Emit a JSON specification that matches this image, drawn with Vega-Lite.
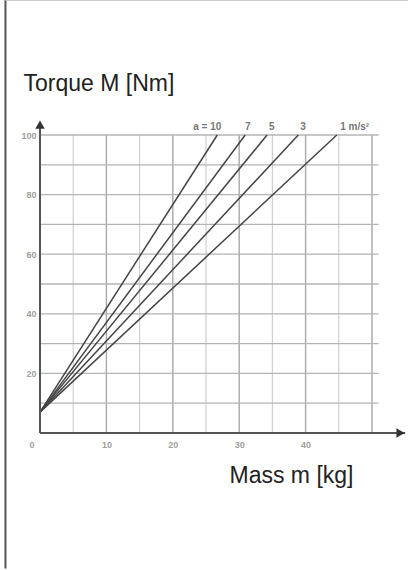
{
  "$schema": "https://vega.github.io/schema/vega-lite/v6.json",
  "width": 332,
  "height": 298,
  "autosize": {"type": "none"},
  "padding": {"left": 40, "top": 135, "right": 36, "bottom": 137},
  "background": "white",
  "config": {
    "view": {"stroke": null},
    "font": "Liberation Sans",
    "axis": {
      "labelFont": "Liberation Sans",
      "titleFont": "Liberation Sans",
      "titleFontWeight": "normal",
      "titleFontSize": 23,
      "titleColor": "#222222",
      "labelColor": "#a0a0a0",
      "labelFontSize": 9,
      "labelFontWeight": "bold",
      "domain": false,
      "ticks": false,
      "grid": false
    }
  },
  "datasets": {
    "curves": [
      {"a": "10", "m": 0, "M": 7}, {"a": "10", "m": 26.7, "M": 100},
      {"a": "7", "m": 0, "M": 7}, {"a": "7", "m": 30.9, "M": 100},
      {"a": "5", "m": 0, "M": 7}, {"a": "5", "m": 34.2, "M": 100},
      {"a": "3", "m": 0, "M": 7}, {"a": "3", "m": 38.9, "M": 100},
      {"a": "1", "m": 0, "M": 7}, {"a": "1", "m": 44.7, "M": 100}
    ],
    "labels": [
      {"m": 25.2, "M": 102.8, "t": "a = 10"},
      {"m": 31.3, "M": 102.8, "t": "7"},
      {"m": 34.9, "M": 102.8, "t": "5"},
      {"m": 39.6, "M": 102.8, "t": "3"},
      {"m": 47.4, "M": 102.8, "t": "1 m/s²"}
    ],
    "vgrid": [
      {"m": 5, "major": false}, {"m": 10, "major": true}, {"m": 15, "major": false},
      {"m": 20, "major": true}, {"m": 25, "major": false}, {"m": 30, "major": true},
      {"m": 35, "major": false}, {"m": 40, "major": true}, {"m": 45, "major": false},
      {"m": 50, "major": true}
    ],
    "hgrid": [
      {"M": 10}, {"M": 20}, {"M": 30}, {"M": 40}, {"M": 50},
      {"M": 60}, {"M": 70}, {"M": 80}, {"M": 90}, {"M": 100}
    ],
    "axes": [
      {"m": 0, "m2": 55, "M": 0, "M2": 0},
      {"m": 0, "m2": 0, "M": 0, "M2": 103}
    ],
    "arrows": [
      {"m": 54.3, "M": 0, "s": "triangle-right"},
      {"m": 0, "M": 103.5, "s": "triangle-up"}
    ],
    "frame": [
      {"m": -5.2, "m2": -5.2, "M": -45.5, "M2": 145.3}
    ],
    "topline": [
      {"m": -5.2, "m2": 55.5, "M": 145.2, "M2": 145.2}
    ]
  },
  "layer": [
    {
      "data": {"name": "vgrid"},
      "mark": {"type": "rule", "clip": false},
      "encoding": {
        "x": {"field": "m", "type": "quantitative"},
        "y": {"datum": 0, "type": "quantitative"},
        "y2": {"datum": 100},
        "color": {"condition": {"test": "datum.major", "value": "#a8a8a8"}, "value": "#cfcfcf"},
        "strokeWidth": {"condition": {"test": "datum.major", "value": 1.4}, "value": 1.2}
      }
    },
    {
      "data": {"name": "hgrid"},
      "mark": {"type": "rule", "color": "#b4b4b4", "strokeWidth": 1.3, "clip": false},
      "encoding": {
        "y": {"field": "M", "type": "quantitative"},
        "x": {"datum": 0, "type": "quantitative"},
        "x2": {"datum": 51}
      }
    },
    {
      "data": {"name": "curves"},
      "mark": {"type": "line", "color": "#444444", "strokeWidth": 1.5, "clip": false},
      "encoding": {
        "x": {
          "field": "m", "type": "quantitative",
          "scale": {"domain": [0, 50], "nice": false, "zero": false},
          "axis": {
            "values": [10, 20, 30, 40],
            "labelPadding": 7,
            "title": "Mass m [kg]",
            "titleAnchor": "start",
            "titleAlign": "left",
            "titleBaseline": "alphabetic",
            "titleX": 189,
            "titleY": 49
          }
        },
        "y": {
          "field": "M", "type": "quantitative",
          "scale": {"domain": [0, 100], "nice": false, "zero": false},
          "axis": {
            "values": [20, 40, 60, 80, 100],
            "labelPadding": 4,
            "title": "Torque M [Nm]",
            "titleAngle": 0,
            "titleAnchor": "start",
            "titleAlign": "left",
            "titleBaseline": "alphabetic",
            "titleX": -17,
            "titleY": -45
          }
        },
        "detail": {"field": "a", "type": "nominal"}
      }
    },
    {
      "data": {"name": "axes"},
      "mark": {"type": "rule", "color": "#555555", "strokeWidth": 2, "clip": false},
      "encoding": {
        "x": {"field": "m", "type": "quantitative"},
        "x2": {"field": "m2"},
        "y": {"field": "M", "type": "quantitative"},
        "y2": {"field": "M2"}
      }
    },
    {
      "data": {"name": "arrows"},
      "mark": {"type": "point", "filled": true, "color": "#333333", "size": 90, "opacity": 1, "clip": false},
      "encoding": {
        "x": {"field": "m", "type": "quantitative"},
        "y": {"field": "M", "type": "quantitative"},
        "shape": {"field": "s", "type": "nominal", "scale": null, "legend": null}
      }
    },
    {
      "data": {"name": "labels"},
      "mark": {"type": "text", "color": "#777777", "fontSize": 10, "fontWeight": "bold", "baseline": "middle", "align": "center", "clip": false},
      "encoding": {
        "x": {"field": "m", "type": "quantitative"},
        "y": {"field": "M", "type": "quantitative"},
        "text": {"field": "t", "type": "nominal"}
      }
    },
    {
      "data": {"values": [{"m": 0, "M": 0, "t": "0"}]},
      "mark": {"type": "text", "color": "#a0a0a0", "fontSize": 9, "fontWeight": "bold", "dx": -8, "dy": 12, "baseline": "middle", "align": "center", "clip": false},
      "encoding": {
        "x": {"field": "m", "type": "quantitative"},
        "y": {"field": "M", "type": "quantitative"},
        "text": {"field": "t", "type": "nominal"}
      }
    },
    {
      "data": {"name": "frame"},
      "mark": {"type": "rule", "color": "#555555", "strokeWidth": 2, "clip": false},
      "encoding": {
        "x": {"field": "m", "type": "quantitative"},
        "x2": {"field": "m2"},
        "y": {"field": "M", "type": "quantitative"},
        "y2": {"field": "M2"}
      }
    },
    {
      "data": {"name": "topline"},
      "mark": {"type": "rule", "color": "#cccccc", "strokeWidth": 1.5, "clip": false},
      "encoding": {
        "x": {"field": "m", "type": "quantitative"},
        "x2": {"field": "m2"},
        "y": {"field": "M", "type": "quantitative"},
        "y2": {"field": "M2"}
      }
    }
  ]
}
